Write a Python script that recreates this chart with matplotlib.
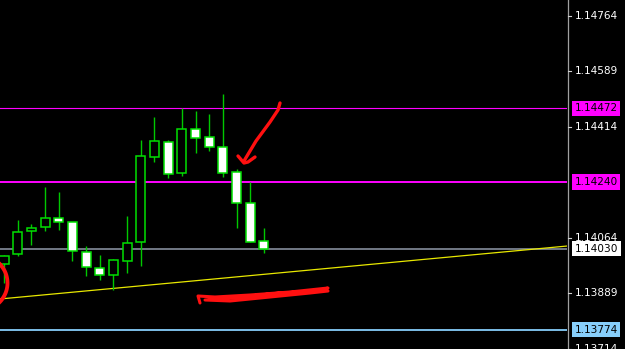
import matplotlib
matplotlib.use('Agg')
import matplotlib.pyplot as plt
from matplotlib.patches import Rectangle
from matplotlib.transforms import blended_transform_factory
import numpy as np

# ---- data (EURUSD-like candles) ----
opens  = [1.13981, 1.14013, 1.14085, 1.14098, 1.14126, 1.14114, 1.14019, 1.13969, 1.13947, 1.13991,
          1.14051, 1.14319, 1.14366, 1.14268, 1.14407, 1.14382, 1.14350, 1.14271, 1.14174, 1.14054]
highs  = [1.14010, 1.14120, 1.14107, 1.14224, 1.14208, 1.14114, 1.14038, 1.14010, 1.13997, 1.14133,
          1.14372, 1.14445, 1.14372, 1.14473, 1.14464, 1.14454, 1.14518, 1.14281, 1.14240, 1.14095]
lows   = [1.13920, 1.14006, 1.14041, 1.14085, 1.14089, 1.13991, 1.13943, 1.13931, 1.13899, 1.13953,
          1.13975, 1.14303, 1.14253, 1.14259, 1.14331, 1.14338, 1.14256, 1.14095, 1.14051, 1.14016]
closes = [1.14006, 1.14082, 1.14095, 1.14126, 1.14114, 1.14022, 1.13972, 1.13947, 1.13994, 1.14047,
          1.14322, 1.14369, 1.14265, 1.14407, 1.14379, 1.14350, 1.14268, 1.14174, 1.14051, 1.14030]

tick_prices = [1.14764, 1.14589, 1.14414, 1.14064, 1.13889, 1.13714]
tick_labels = ["1.14764", "1.14589", "1.14414", "1.14064", "1.13889", "1.13714"]
level_upper = 1.14472
level_mid = 1.14240
bid_price = 1.14030
level_low = 1.13774
trend_start = 1.13871   # trendline price at left edge
trend_end = 1.14038     # trendline price at right edge

W, H = 625, 349
fig = plt.figure(figsize=(W / 100, H / 100), dpi=100, facecolor='black')
ax = fig.add_axes([0, 0, 567 / W, 1])
ax.set_facecolor('black')
xmin, xmax = -0.292, 41.15
ax.set_xlim(xmin, xmax)
ax.set_ylim(1.137132, 1.148141)
ax.axis('off')

GREEN = '#00e000'
WICK = '#00c800'
bw = 0.66
for i, (o, h, l, c) in enumerate(zip(opens, highs, lows, closes)):
    ax.plot([i, i], [l, h], color=WICK, lw=1.0, zorder=3, solid_capstyle='butt')
    bottom = min(o, c)
    height = abs(c - o)
    face = 'black' if c > o else 'white'
    ax.add_patch(Rectangle((i - bw / 2, bottom), bw, height, facecolor=face,
                           edgecolor=GREEN, lw=1.1, zorder=4))

# horizontal levels
ax.axhline(level_upper, color='#ff00ff', lw=0.8, zorder=2)
ax.axhline(level_mid, color='#ff00ff', lw=1.4, zorder=2)
ax.axhline(bid_price, color='#7a8290', lw=1.3, zorder=2)
ax.axhline(level_low, color='#87cefa', lw=1.3, zorder=2)
# trendline
ax.plot([xmin, xmax], [trend_start, trend_end], color='#e8e800', lw=0.9, zorder=2)

# right price scale
fig.add_artist(plt.Line2D([567.5 / W, 567.5 / W], [0, 1], color='#a0a0a0', lw=0.9,
                          transform=fig.transFigure))
tr = blended_transform_factory(fig.transFigure, ax.transData)
for p, lab in zip(tick_prices, tick_labels):
    fig.add_artist(plt.Line2D([568 / W, 571 / W], [p, p], color='#d0d0d0', lw=0.8, transform=tr))
    fig.text(575 / W, p, lab, transform=tr, color='white', fontsize=7.6,
             va='center', ha='left', family='DejaVu Sans')

def box_label(price, text, fc):
    fig.text(574.5 / W, price, text, transform=tr, color='black', fontsize=7.6,
             va='center', ha='left', family='DejaVu Sans', zorder=10,
             bbox=dict(boxstyle='square,pad=0.25', facecolor=fc, edgecolor='none'))

box_label(level_upper, "1.14472", '#ff00ff')
box_label(level_mid, "1.14240", '#ff00ff')
box_label(bid_price, "1.14030", 'white')
box_label(level_low, "1.13774", '#87cefa')

# freehand red annotations (pixel overlay)
ov = fig.add_axes([0, 0, 567 / W, 1])
ov.set_xlim(0, 567)
ov.set_ylim(H, 0)
ov.axis('off')
ov.patch.set_alpha(0)
RED = '#ff1010'
th = np.linspace(np.radians(-55), np.radians(50), 50)
for cx, r in [(-20, 28), (-19, 26)]:
    ov.plot(cx + r * np.cos(th), 283 + r * np.sin(th), color=RED, lw=2.0)
arrow = [(280, 103), (278, 110), (270, 122), (256, 141), (244, 161)]
ov.plot(*zip(*arrow), color=RED, lw=2.4, solid_capstyle='round')
head = [(238, 156), (244, 163), (248, 162), (255, 157)]
ov.plot(*zip(*head), color=RED, lw=2.4, solid_capstyle='round', solid_joinstyle='round')
scribble = [(200, 303), (198, 296), (215, 297), (250, 295), (290, 292), (328, 288), (318, 291),
            (280, 293), (240, 297), (205, 300), (230, 301), (270, 297), (310, 293), (328, 291)]
ov.plot(*zip(*scribble), color=RED, lw=2.2, solid_capstyle='round', solid_joinstyle='round')

fig.savefig('out.png', dpi=100, facecolor='black')
